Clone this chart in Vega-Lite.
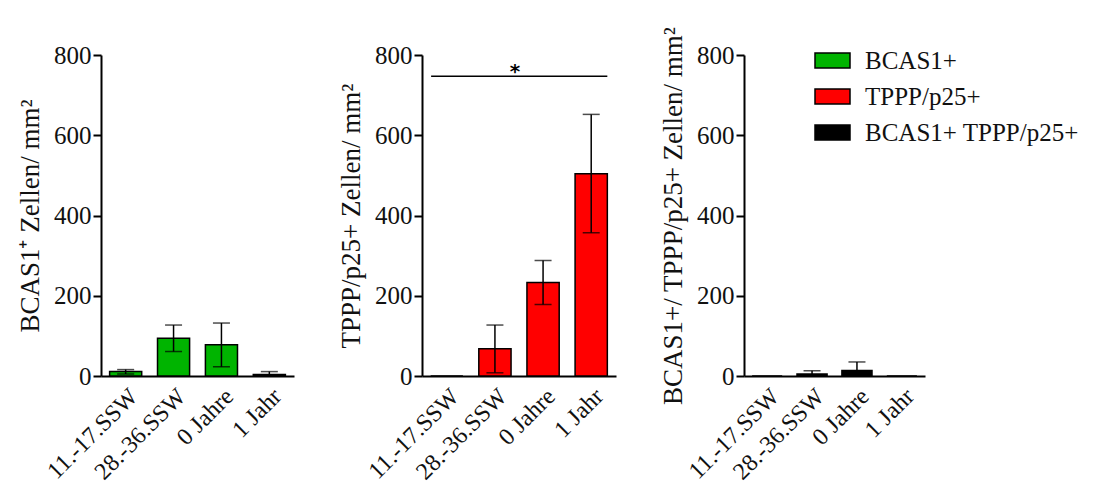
{
  "$schema": "https://vega.github.io/schema/vega-lite/v6.json",
  "background": "white",
  "padding": {"left": 16, "top": 26, "right": 5, "bottom": 5},
  "config": {
    "view": {"stroke": null},
    "font": "Liberation Serif",
    "axis": {
      "domainColor": "black", "domainWidth": 2, "tickColor": "black", "tickWidth": 2,
      "labelColor": "#111", "titleColor": "#111", "labelFont": "Liberation Serif", "titleFont": "Liberation Serif",
      "grid": false, "titleFontWeight": "normal"
    }
  },
  "datasets": {
    "bars": [
      {"panel": "A", "group": "11.-17.SSW", "mean": 11, "lo": 5, "hi": 16},
      {"panel": "A", "group": "28.-36.SSW", "mean": 94, "lo": 61, "hi": 127},
      {"panel": "A", "group": "0 Jahre", "mean": 78, "lo": 23, "hi": 132},
      {"panel": "A", "group": "1 Jahr", "mean": 4, "lo": 0, "hi": 11},
      {"panel": "B", "group": "11.-17.SSW", "mean": 0, "lo": null, "hi": null},
      {"panel": "B", "group": "28.-36.SSW", "mean": 68, "lo": 8, "hi": 127},
      {"panel": "B", "group": "0 Jahre", "mean": 233, "lo": 178, "hi": 288},
      {"panel": "B", "group": "1 Jahr", "mean": 504, "lo": 357, "hi": 652},
      {"panel": "C", "series": "BCAS1+ TPPP/p25+", "group": "11.-17.SSW", "mean": 0, "lo": null, "hi": null},
      {"panel": "C", "series": "BCAS1+ TPPP/p25+", "group": "28.-36.SSW", "mean": 5, "lo": 0, "hi": 13},
      {"panel": "C", "series": "BCAS1+ TPPP/p25+", "group": "0 Jahre", "mean": 14, "lo": 0, "hi": 35},
      {"panel": "C", "series": "BCAS1+ TPPP/p25+", "group": "1 Jahr", "mean": 0, "lo": null, "hi": null}
    ],
    "sig": [
      {"from": "11.-17.SSW", "to": "1 Jahr", "mid": "0 Jahre", "y": 747, "ytext": 758, "label": "*"}
    ]
  },
  "bounds": "full",
  "spacing": 43,
  "resolve": {"scale": {"color": "independent"}, "legend": {"color": "independent"}},
  "hconcat": [
    {
      "width": 193, "height": 321,
      "data": {"name": "bars"},
      "transform": [{"filter": "datum.panel === 'A'"}],
      "encoding": {
        "x": {"field": "group", "type": "nominal", "sort": null,
          "scale": {"paddingInner": 0.33, "paddingOuter": 0.18},
          "axis": {"title": null, "labelAngle": -45, "labelFontSize": 24, "ticks": false, "labelPadding": 8}},
        "y": {"type": "quantitative"}
      },
      "layer": [
        {"mark": {"type": "bar", "color": "#00b400", "stroke": "black", "strokeWidth": 1.5},
         "encoding": {"y": {"field": "mean", "type": "quantitative",
           "scale": {"domain": [0, 800]},
           "axis": {"values": [0, 200, 400, 600, 800], "labelFontSize": 25, "tickSize": 8, "labelPadding": 2,
             "title": "BCAS1⁺ Zellen/ mm²", "titleFontSize": 27, "titlePadding": 9}}}},
        {"mark": {"type": "rule", "color": "black", "strokeWidth": 1.5},
         "encoding": {"y": {"field": "lo", "type": "quantitative"}, "y2": {"field": "hi"}}},
        {"mark": {"type": "tick", "color": "black", "thickness": 1.5, "size": 17, "orient": "horizontal"},
         "encoding": {"y": {"field": "lo", "type": "quantitative"}}},
        {"mark": {"type": "tick", "color": "black", "thickness": 1.5, "size": 17, "orient": "horizontal"},
         "encoding": {"y": {"field": "hi", "type": "quantitative"}}}
      ]
    },
    {
      "width": 194, "height": 321,
      "layer": [
        {
          "data": {"name": "bars"},
          "transform": [{"filter": "datum.panel === 'B'"}],
          "encoding": {
            "x": {"field": "group", "type": "nominal", "sort": null,
              "scale": {"domain": ["11.-17.SSW", "28.-36.SSW", "0 Jahre", "1 Jahr"], "paddingInner": 0.33, "paddingOuter": 0.18},
              "axis": {"title": null, "labelAngle": -45, "labelFontSize": 24, "ticks": false, "labelPadding": 8}}
          },
          "layer": [
            {"mark": {"type": "bar", "color": "#ff0000", "stroke": "black", "strokeWidth": 1.5},
             "encoding": {"y": {"field": "mean", "type": "quantitative",
               "scale": {"domain": [0, 800]},
               "axis": {"values": [0, 200, 400, 600, 800], "labelFontSize": 25, "tickSize": 8, "labelPadding": 2,
                 "title": "TPPP/p25+ Zellen/ mm²", "titleFontSize": 27, "titlePadding": 9}}}},
            {"mark": {"type": "rule", "color": "black", "strokeWidth": 1.5},
             "encoding": {"y": {"field": "lo", "type": "quantitative"}, "y2": {"field": "hi"}}},
            {"mark": {"type": "tick", "color": "black", "thickness": 1.5, "size": 17, "orient": "horizontal"},
             "encoding": {"y": {"field": "lo", "type": "quantitative"}}},
            {"mark": {"type": "tick", "color": "black", "thickness": 1.5, "size": 17, "orient": "horizontal"},
             "encoding": {"y": {"field": "hi", "type": "quantitative"}}}
          ]
        },
        {
          "data": {"name": "sig"},
          "mark": {"type": "rule", "color": "black", "strokeWidth": 1.5, "xOffset": -6, "x2Offset": 0},
          "encoding": {
            "x": {"field": "from", "type": "nominal", "bandPosition": 0.2},
            "x2": {"field": "to", "bandPosition": 1},
            "y": {"field": "y", "type": "quantitative"}
          }
        },
        {
          "data": {"name": "sig"},
          "mark": {"type": "text", "font": "DejaVu Sans", "fontWeight": "bold", "fontSize": 20, "dx": -12, "baseline": "middle"},
          "encoding": {
            "x": {"field": "mid", "type": "nominal", "bandPosition": 0},
            "y": {"field": "ytext", "type": "quantitative"},
            "text": {"field": "label"}
          }
        }
      ]
    },
    {
      "width": 181, "height": 321,
      "data": {"name": "bars"},
      "transform": [{"filter": "datum.panel === 'C'"}],
      "encoding": {
        "x": {"field": "group", "type": "nominal", "sort": null,
          "scale": {"paddingInner": 0.33, "paddingOuter": 0.18},
          "axis": {"title": null, "labelAngle": -45, "labelFontSize": 24, "ticks": false, "labelPadding": 8}}
      },
      "layer": [
        {"mark": {"type": "bar", "stroke": "black", "strokeWidth": 1.5},
         "encoding": {
           "y": {"field": "mean", "type": "quantitative",
             "scale": {"domain": [0, 800]},
             "axis": {"values": [0, 200, 400, 600, 800], "labelFontSize": 25, "tickSize": 8, "labelPadding": 2,
               "title": "BCAS1+/ TPPP/p25+ Zellen/ mm²", "titleFontSize": 27, "titlePadding": 9}},
           "color": {"field": "series", "type": "nominal",
             "scale": {"domain": ["BCAS1+", "TPPP/p25+", "BCAS1+ TPPP/p25+"], "range": ["#00b400", "#ff0000", "#000000"]},
             "legend": {"title": null, "orient": "none", "legendX": 70, "legendY": -13, "padding": 0,
               "symbolType": "M-1,-0.43H1V0.43H-1Z", "symbolSize": 1225, "symbolStrokeColor": "black", "symbolStrokeWidth": 1.5,
               "symbolOpacity": 1, "symbolFillOpacity": 1,
               "labelFontSize": 25, "labelFont": "Liberation Serif", "labelColor": "#111", "labelOffset": 14, "rowPadding": 4, "labelLimit": 400}}
         }},
        {"mark": {"type": "rule", "color": "black", "strokeWidth": 1.5},
         "encoding": {"y": {"field": "lo", "type": "quantitative"}, "y2": {"field": "hi"}}},
        {"mark": {"type": "tick", "color": "black", "thickness": 1.5, "size": 17, "orient": "horizontal"},
         "encoding": {"y": {"field": "hi", "type": "quantitative"}}}
      ]
    }
  ]
}
